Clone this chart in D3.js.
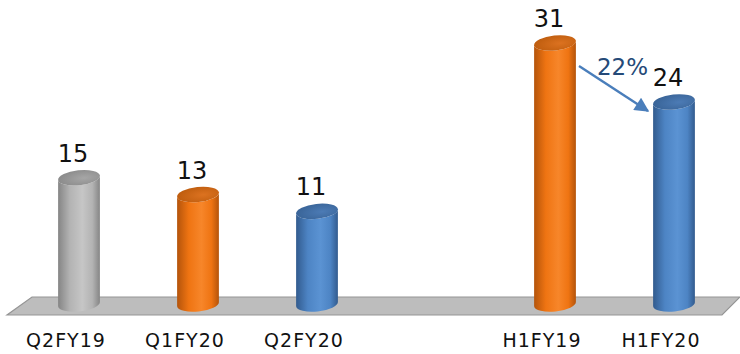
<!DOCTYPE html>
<html>
<head>
<meta charset="utf-8">
<script src="https://cdn.jsdelivr.net/npm/d3@7"></script>
<style>
  html, body { margin: 0; padding: 0; background: #ffffff; }
  svg { display: block; }
  text { font-family: "DejaVu Sans", sans-serif; }
</style>
</head>
<body>
<svg id="chart" width="740" height="354"></svg>
<script>
// Revenue by period (values shown above each cylinder)
const categories = ["Q2FY19", "Q1FY20", "Q2FY20", "H1FY19", "H1FY20"];
const values = [15, 13, 11, 31, 24];
const seriesKeys = ["grey", "orange", "blue", "orange", "blue"];
// slot order along the floor, with an empty slot between quarters and half-years
const slots = ["Q2FY19", "Q1FY20", "Q2FY20", "", "H1FY19", "H1FY20"];
const changeLabel = "22%";

const palette = {
  grey:   { dark: "#858585", mid: "#b3b3b3", light: "#c6c6c6", top: "#8c8c8c", topLight: "#a6a6a6" },
  orange: { dark: "#b4540b", mid: "#ef7412", light: "#f7862a", top: "#c05e0f", topLight: "#dc7220" },
  blue:   { dark: "#325b8e", mid: "#4d84c4", light: "#5b93d3", top: "#3a6599", topLight: "#4c7bb5" }
};

const W = 740, H = 354;
const svg = d3.select("#chart");
const defs = svg.append("defs");

const x = d3.scalePoint().domain(slots).range([79, 674]);
const y = d3.scaleLinear().domain([0, 31]).range([304, 43]);

const rx = 21, ry = 7.5, tilt = -6;
const rad = tilt * Math.PI / 180;
const dx = rx * Math.cos(rad), dy = rx * Math.sin(rad);

// body and cap gradients per series
Object.entries(palette).forEach(([k, c]) => {
  const g = defs.append("linearGradient").attr("id", "body-" + k)
    .attr("x1", "0").attr("x2", "1").attr("y1", "0").attr("y2", "0");
  g.append("stop").attr("offset", "0%").attr("stop-color", c.dark);
  g.append("stop").attr("offset", "28%").attr("stop-color", c.mid);
  g.append("stop").attr("offset", "58%").attr("stop-color", c.light);
  g.append("stop").attr("offset", "82%").attr("stop-color", c.mid);
  g.append("stop").attr("offset", "100%").attr("stop-color", c.dark);
  const t = defs.append("radialGradient").attr("id", "top-" + k)
    .attr("cx", "62%").attr("cy", "55%").attr("r", "60%");
  t.append("stop").attr("offset", "0%").attr("stop-color", c.topLight);
  t.append("stop").attr("offset", "100%").attr("stop-color", c.top);
});

// floor plane
const floorTop = 297, floorBottom = 315;
svg.append("polygon")
  .attr("points", [[32, floorTop], [W, floorTop], [722, floorBottom], [7, floorBottom]].map(p => p.join(",")).join(" "))
  .attr("fill", "#bdbdbd")
  .attr("stroke", "#959595")
  .attr("stroke-width", 1.2);

const data = categories.map((c, i) => ({ cat: c, value: values[i], key: seriesKeys[i] }));

const bars = svg.append("g").selectAll("g").data(data).join("g");

bars.append("path")
  .attr("d", d => {
    const cx = x(d.cat), yt = y(d.value), yb = y(0);
    return `M${cx - dx},${yt - dy} L${cx - dx},${yb - dy} ` +
      `A${rx},${ry} ${tilt} 0 0 ${cx + dx},${yb + dy} ` +
      `L${cx + dx},${yt + dy} ` +
      `A${rx},${ry} ${tilt} 0 1 ${cx - dx},${yt - dy} Z`;
  })
  .attr("fill", d => `url(#body-${d.key})`);

bars.append("ellipse")
  .attr("cx", 0).attr("cy", 0).attr("rx", rx).attr("ry", ry)
  .attr("transform", d => `translate(${x(d.cat)},${y(d.value)}) rotate(${tilt})`)
  .attr("fill", d => `url(#top-${d.key})`);

// value labels
bars.append("text")
  .attr("x", d => x(d.cat) - 6)
  .attr("y", d => y(d.value) - 16)
  .attr("text-anchor", "middle")
  .attr("font-size", 24)
  .attr("fill", "#111")
  .text(d => d.value);

// category labels
svg.append("g").selectAll("text").data(data).join("text")
  .attr("x", d => x(d.cat) - 13)
  .attr("y", 347)
  .attr("text-anchor", "middle")
  .attr("font-size", 19)
  .attr("letter-spacing", 1)
  .attr("fill", "#111")
  .text(d => d.cat);

// change arrow between the two half-year cylinders
const a = data[3], b = data[4];
defs.append("marker").attr("id", "arrowhead")
  .attr("viewBox", "0 0 10 10").attr("refX", 9).attr("refY", 5)
  .attr("markerWidth", 7).attr("markerHeight", 6).attr("orient", "auto")
  .attr("markerUnits", "strokeWidth")
  .append("path").attr("d", "M0,0 L10,5 L0,10 Z").attr("fill", "#4a7ebb");

svg.append("line")
  .attr("x1", x(a.cat) + 24).attr("y1", y(a.value) + 23)
  .attr("x2", x(b.cat) - 26).attr("y2", y(b.value) + 9)
  .attr("stroke", "#4a7ebb").attr("stroke-width", 2.4)
  .attr("marker-end", "url(#arrowhead)");

svg.append("text")
  .attr("x", (x(a.cat) + x(b.cat)) / 2 + 8)
  .attr("y", y(a.value) + 32)
  .attr("text-anchor", "middle")
  .attr("font-size", 23)
  .attr("fill", "#254a78")
  .text(changeLabel);
</script>
</body>
</html>
